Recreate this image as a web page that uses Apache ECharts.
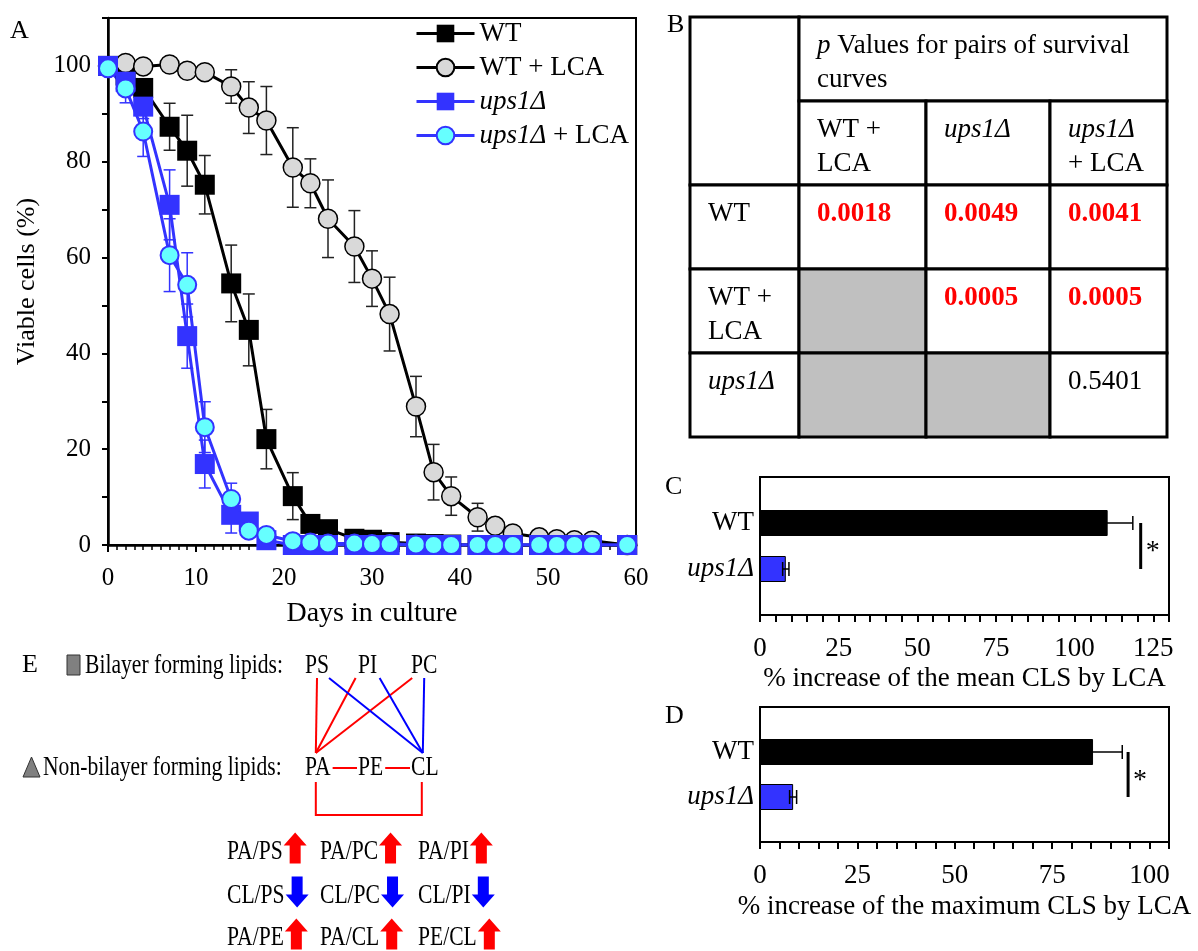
<!DOCTYPE html>
<html><head><meta charset="utf-8">
<script src="https://cdn.jsdelivr.net/npm/echarts@6/dist/echarts.min.js"></script>
<style>html,body{margin:0;padding:0;background:#fff}#c{width:1198px;height:951px}</style>
</head><body><div id="c"></div><script>
const FONT = '"Liberation Serif","Times New Roman",serif';

// ---------- Panel A data ----------
const days       = [0,2,4,7,9,11,14,16,18,21,23,25,28,30,32,35,37,39,42,44,46,49,51,53,55,59];
const wt         = [100,98,95.4,87.3,82.3,75.2,54.6,44.9,22.1,10.2,4.4,3.3,1.3,1.1,0.6,0.3,0.2,0.1,0,0,0,0,0,0,0,0];
const wtErr      = [0,1,1.5,4.9,7.4,6.1,8,7.5,6.2,4.9,1.5,1,0.5,0.5,0.3,0,0,0,0,0,0,0,0,0,0,0];
const wtLca      = [100,100.6,99.9,100.3,99.0,98.7,95.7,91.3,88.6,78.8,75.5,68.1,62.3,55.6,48.2,28.9,15.2,10.2,5.8,4.0,2.4,1.6,1.2,1.0,0.9,0];
const wtLcaErr   = [0,0.5,1,1,1,1,3.5,5.4,7.1,8.3,5.1,8.1,7.5,5.8,7.7,6.3,5.8,4.0,2.9,1.5,1,0.5,0.3,0.3,0.2,0];
const ups        = [100,96.7,91.5,71.0,43.6,16.9,6.3,4.9,1.0,0,0,0,0,0,0,0,0,0,0,0,0,0,0,0,0,0];
const upsErr     = [0,1.5,2.5,7.3,6.7,5,3.8,1.5,0.5,0,0,0,0,0,0,0,0,0,0,0,0,0,0,0,0,0];
const upsLca     = [99.5,95.3,86.3,60.5,54.3,24.6,9.6,3.0,2.1,0.8,0.5,0.3,0.3,0.2,0.2,0.1,0,0,0,0,0,0,0,0,0,0];
const upsLcaErr  = [0,3,5.2,7.6,6.7,5.3,3.3,1,0.5,0,0,0,0,0,0,0,0,0,0,0,0,0,0,0,0,0];
const seriesNames = ['WT','WT + LCA','ups1Δ','ups1Δ + LCA'];

// ---------- Panel B data ----------
const tableHeader = 'p Values for pairs of survival\ncurves';
const tableCols = ['WT +\nLCA','ups1Δ','ups1Δ\n+ LCA'];
const tableRows = ['WT','WT +\nLCA','ups1Δ'];
const pValues = [
  ['0.0018','0.0049','0.0041'],
  [null,'0.0005','0.0005'],
  [null,null,'0.5401']
];

// ---------- Panel C / D data ----------
const strains = ['WT','ups1Δ'];
const meanInc = [110.5, 8.2];
const meanErr = [8, 1];
const maxInc  = [85.5, 8.5];
const maxErr  = [7.5, 0.9];
const sigMeanX = 121;
const sigMaxX  = 94.5;

// ---------- Panel E data ----------
const bilayer = ['PS','PI','PC'];
const nonBilayer = ['PA','PE','CL'];
const links = [['PS','PA','red'],['PI','PA','red'],['PC','PA','red'],
               ['PS','CL','blue'],['PI','CL','blue'],['PC','CL','blue']];
const ratios = [['PA/PS','up'],['PA/PC','up'],['PA/PI','up'],
                ['CL/PS','down'],['CL/PC','down'],['CL/PI','down'],
                ['PA/PE','up'],['PA/CL','up'],['PE/CL','up']];

const RED = '#ff0000', BLUE = '#3333ff', LBLUE = '#0000ff';
const ital = s => s.replace(/ups1Δ/g, '{i|ups1Δ}');

// ---------- Helpers ----------
function vErr(color){
  return function(params, api){
    const x = api.value(0), lo = api.value(1), hi = api.value(2);
    if (hi - lo < 0.3) return;
    const a = api.coord([x, hi]), b = api.coord([x, lo]);
    const w = 6, st = {stroke: color, lineWidth: 1.5};
    return {type:'group', children:[
      {type:'line', shape:{x1:a[0],y1:a[1],x2:b[0],y2:b[1]}, style:st},
      {type:'line', shape:{x1:a[0]-w,y1:a[1],x2:a[0]+w,y2:a[1]}, style:st},
      {type:'line', shape:{x1:b[0]-w,y1:b[1],x2:b[0]+w,y2:b[1]}, style:st}
    ]};
  };
}
function hErr(params, api){
  const v = api.value(0), c = api.value(1), e = api.value(2);
  const a = api.coord([v - e, c]), b = api.coord([v + e, c]);
  const h = 7, st = {stroke:'#000', lineWidth:1.5};
  return {type:'group', children:[
    {type:'line', shape:{x1:a[0],y1:a[1],x2:b[0],y2:b[1]}, style:st},
    {type:'line', shape:{x1:a[0],y1:a[1]-h,x2:a[0],y2:a[1]+h}, style:st},
    {type:'line', shape:{x1:b[0],y1:b[1]-h,x2:b[0],y2:b[1]+h}, style:st}
  ]};
}
function sigBracket(params, api){
  const x = api.value(0);
  const a = api.coord([x, api.value(1)]), b = api.coord([x, api.value(2)]);
  return {type:'group', children:[
    {type:'line', shape:{x1:a[0],y1:a[1],x2:b[0],y2:b[1]}, style:{stroke:'#000', lineWidth:3}},
    {type:'text', x:a[0]+5, y:(a[1]+b[1])/2+6, style:{text:'*', fill:'#000', fontSize:28, fontFamily:FONT, verticalAlign:'middle', align:'left'}}
  ]};
}
const errData = (vals, errs) => days.map((d,i)=>[d, vals[i]-errs[i], vals[i]+errs[i]]);

// category axes for C & D: padded so the two bars sit at the inner ticks
const catAxisData = ['', ...strains.slice().reverse(), ' '];
const catIndex = name => catAxisData.indexOf(name);
function barData(vals){
  return catAxisData.map(c => {
    const i = strains.indexOf(c);
    if (i < 0) return null;
    return {value: vals[i], itemStyle:{color: c === 'WT' ? '#000' : BLUE, borderColor:'#000', borderWidth:1}};
  });
}
const hErrData = (vals, errs) => strains.map((s,i)=>[vals[i], catIndex(s), errs[i]]);

const axisBlack = {show:true, lineStyle:{color:'#000', width:2}};
const txt = (size, extra) => Object.assign({fontSize:size, fontFamily:FONT, color:'#000'}, extra||{});

// ---------- Graphic: panel letters, table B, diagram E ----------
const g = [];
[['A',10,31],['B',667,25],['C',665,487],['D',665,716],['E',22,665]].forEach(([t,x,y])=>{
  g.push({type:'text', x, y, style:{text:t, fontSize:26, fontFamily:FONT, fill:'#000', verticalAlign:'middle'}});
});

// Table B
const colX = [690, 799, 926, 1050, 1167];
const rowY = [17, 101, 185, 269, 353, 437];
const cellRect = (x0,y0,x1,y1,fill) => ({type:'rect', shape:{x:x0,y:y0,width:x1-x0,height:y1-y0}, style:{fill, stroke:'#000', lineWidth:3}, z:1});
const cellText = (x,y,text,extra) => ({type:'text', x:x+18, y:y+12, z:2, style:Object.assign({
  text: ital(text), fontSize:27, fontFamily:FONT, fill:'#000', lineHeight:34, verticalAlign:'top', align:'left',
  rich:{i:{fontStyle:'italic', fontSize:27, fontFamily:FONT, lineHeight:34},
        p:{fontStyle:'italic', fontSize:27, fontFamily:FONT, lineHeight:34}}
}, extra||{})});
g.push(cellRect(colX[0],rowY[0],colX[1],rowY[2],'#fff'));
g.push(cellRect(colX[1],rowY[0],colX[4],rowY[1],'#fff'));
g.push(cellText(colX[1],rowY[0],tableHeader.replace(/^p /,'{p|p} ')));
tableCols.forEach((c,j)=>{
  g.push(cellRect(colX[j+1],rowY[1],colX[j+2],rowY[2],'#fff'));
  g.push(cellText(colX[j+1],rowY[1],c));
});
tableRows.forEach((r,i)=>{
  g.push(cellRect(colX[0],rowY[i+2],colX[1],rowY[i+3],'#fff'));
  g.push(cellText(colX[0],rowY[i+2],r));
  pValues[i].forEach((p,j)=>{
    g.push(cellRect(colX[j+1],rowY[i+2],colX[j+2],rowY[i+3], p === null ? '#c0c0c0' : '#fff'));
    if (p !== null) {
      const sig = parseFloat(p) < 0.05;
      g.push(cellText(colX[j+1],rowY[i+2],p,{fill: sig ? RED : '#000', fontWeight: sig ? 'bold' : 'normal'}));
    }
  });
});

// Diagram E
const SX = 0.8, EFS = 27;
const ctx = document.createElement('canvas').getContext('2d');
ctx.font = EFS + 'px "Liberation Serif"';
const tw = s => ctx.measureText(s).width * SX;
const eText = (s, x, y, extra) => Object.assign({type:'text', x, y, scaleX:SX,
  style:{text:s, fontSize:EFS, fontFamily:FONT, fill:'#000', verticalAlign:'middle', align:'left'}}, extra||{});
g.push({type:'rect', shape:{x:67,y:655,width:13,height:20}, style:{fill:'#808080', stroke:'#333', lineWidth:1}});
g.push(eText('Bilayer forming lipids:', 85, 666));
g.push({type:'polygon', shape:{points:[[23,777],[31.5,757],[40,777]]}, style:{fill:'#808080', stroke:'#333', lineWidth:1}});
g.push(eText('Non-bilayer forming lipids:', 43, 768));
const nodePos = {};
const topY = 666, botY = 768, nodeLeft0 = 305, nodeStep = 53;
bilayer.forEach((n,i)=>{ const x = nodeLeft0 + nodeStep*i; nodePos[n] = {l:x, c:x+tw(n)/2, r:x+tw(n), y:topY}; g.push(eText(n, x, topY)); });
nonBilayer.forEach((n,i)=>{ const x = nodeLeft0 + nodeStep*i; nodePos[n] = {l:x, c:x+tw(n)/2, r:x+tw(n), y:botY}; g.push(eText(n, x, botY)); });
const lineCol = {red: RED, blue: LBLUE};
links.forEach(([a,b,col])=>{
  const A = nodePos[a], B = nodePos[b];
  const bx = B.c - 2;
  const d = bx - A.c;
  const ax = A.c + (Math.abs(d) < 8 ? 0 : 12*Math.sign(d));
  g.push({type:'line', shape:{x1:ax, y1:A.y+12, x2:bx, y2:B.y-15}, style:{stroke:lineCol[col], lineWidth:2}});
});
for (let i=0;i<nonBilayer.length-1;i++){
  const A = nodePos[nonBilayer[i]], B = nodePos[nonBilayer[i+1]];
  g.push({type:'line', shape:{x1:A.r+2, y1:botY, x2:B.l-1, y2:botY}, style:{stroke:RED, lineWidth:2}});
}
{
  const A = nodePos[nonBilayer[0]], B = nodePos[nonBilayer[nonBilayer.length-1]];
  g.push({type:'polyline', shape:{points:[[A.c-2,botY+14],[A.c-2,botY+47],[B.c-3,botY+47],[B.c-3,botY+14]]}, style:{stroke:RED, lineWidth:2, fill:null}});
}
const ratioColX = [227, 320, 418], ratioRowY = [852, 896, 938];
function arrow(x0, yc, dir, col){
  const w = 23, h = 31, hh = 13, s0 = 6, s1 = 17, yt = yc - h/2;
  let pts = [[x0,yt+hh],[x0+w/2,yt],[x0+w,yt+hh],[x0+s1,yt+hh],[x0+s1,yt+h],[x0+s0,yt+h],[x0+s0,yt+hh]];
  if (dir === 'down') pts = pts.map(([x,y])=>[x, 2*yc - y]);
  return {type:'polygon', shape:{points:pts}, style:{fill:col}};
}
ratios.forEach(([label,dir],k)=>{
  const x = ratioColX[k%3], y = ratioRowY[Math.floor(k/3)];
  g.push(eText(label, x, y));
  g.push(arrow(x + tw(label) + 1, y - 4, dir, dir === 'up' ? RED : LBLUE));
});

// ---------- Chart ----------
const chart = echarts.init(document.getElementById('c'), null, {renderer:'canvas'});
const lineSeries = (name, vals, symbol, size, fill, border, bw, lineColor) => ({
  type:'line', name, xAxisIndex:0, yAxisIndex:0, z:3,
  data: days.map((d,i)=>[d, vals[i]]), symbol, symbolSize:size, showSymbol:true,
  lineStyle:{color:lineColor, width:3}, itemStyle:{color:fill, borderColor:border, borderWidth:bw}
});
chart.setOption({
  animation:false,
  backgroundColor:'#fff',
  textStyle:{fontFamily:FONT},
  grid:[
    {left:108, top:18, width:528, height:527, show:true, borderColor:'#000', borderWidth:2},
    {left:760, top:477, width:409, height:138, show:true, borderColor:'#000', borderWidth:2},
    {left:760, top:707, width:409, height:135, show:true, borderColor:'#000', borderWidth:2}
  ],
  legend:{
    data: seriesNames, orient:'vertical', left:410, top:15, itemWidth:58, itemHeight:22, itemGap:7,
    lineStyle:{width:3},
    formatter: n => ital(n),
    textStyle: txt(27, {rich:{i:{fontStyle:'italic', fontSize:27, fontFamily:FONT, color:'#000'}}})
  },
  xAxis:[
    {type:'value', gridIndex:0, min:0, max:60, interval:10,
     axisLine:{show:true, lineStyle:{color:'#000', width:2.5}},
     axisTick:{show:true, length:7, lineStyle:{color:'#000', width:2}},
     minorTick:{show:true, splitNumber:10, length:5, lineStyle:{color:'#000', width:1.5}},
     splitLine:{show:false},
     axisLabel: txt(25, {margin:21}),
     name:'Days in culture', nameLocation:'middle', nameGap:55, nameTextStyle: txt(28)},
    {type:'value', gridIndex:1, min:0, max:130, interval:5,
     axisLine:axisBlack, splitLine:{show:false},
     axisTick:{show:true, length:7, lineStyle:{color:'#000', width:2}},
     axisLabel: txt(27, {margin:20, formatter: v => (v % 25 === 0 && v <= 125) ? String(v) : ''}),
     name:'% increase of the mean CLS by LCA', nameLocation:'middle', nameGap:50, nameTextStyle: txt(27)},
    {type:'value', gridIndex:2, min:0, max:105, interval:5,
     axisLine:axisBlack, splitLine:{show:false},
     axisTick:{show:true, length:7, lineStyle:{color:'#000', width:2}},
     axisLabel: txt(27, {margin:20, formatter: v => (v % 25 === 0 && v <= 100) ? String(v) : ''}),
     name:'% increase of the maximum CLS by LCA', nameLocation:'middle', nameGap:51, nameTextStyle: txt(27)}
  ],
  yAxis:[
    {type:'value', gridIndex:0, min:0, max:110, interval:10,
     axisLine:{show:true, lineStyle:{color:'#000', width:2.5}},
     axisTick:{show:true, length:6, lineStyle:{color:'#000', width:2}},
     splitLine:{show:false},
     axisLabel: txt(25, {margin:17, formatter: v => (v % 20 === 0 && v <= 100) ? String(v) : ''}),
     name:'Viable cells (%)', nameLocation:'middle', nameGap:68, nameTextStyle: txt(26)},
    {type:'category', gridIndex:1, data:catAxisData, boundaryGap:false,
     axisLine:axisBlack, axisTick:{show:false}, splitLine:{show:false},
     axisLabel: txt(27, {margin:6, formatter: v => ital(v), rich:{i:{fontStyle:'italic', fontSize:27, fontFamily:FONT, color:'#000'}}})},
    {type:'category', gridIndex:2, data:catAxisData, boundaryGap:false,
     axisLine:axisBlack, axisTick:{show:false}, splitLine:{show:false},
     axisLabel: txt(27, {margin:6, formatter: v => ital(v), rich:{i:{fontStyle:'italic', fontSize:27, fontFamily:FONT, color:'#000'}}})}
  ],
  series:[
    {type:'custom', name:'errWT', xAxisIndex:0, yAxisIndex:0, z:2, renderItem:vErr('#222'), data:errData(wt, wtErr), encode:{x:0, y:[1,2]}},
    {type:'custom', name:'errWTLCA', xAxisIndex:0, yAxisIndex:0, z:2, renderItem:vErr('#222'), data:errData(wtLca, wtLcaErr), encode:{x:0, y:[1,2]}},
    {type:'custom', name:'errUps', xAxisIndex:0, yAxisIndex:0, z:2, renderItem:vErr(BLUE), data:errData(ups, upsErr), encode:{x:0, y:[1,2]}},
    {type:'custom', name:'errUpsLCA', xAxisIndex:0, yAxisIndex:0, z:2, renderItem:vErr(BLUE), data:errData(upsLca, upsLcaErr), encode:{x:0, y:[1,2]}},
    lineSeries('WT', wt, 'rect', 20, '#000', '#000', 0, '#000'),
    lineSeries('WT + LCA', wtLca, 'circle', 19, '#d9d9d9', '#000', 1.5, '#000'),
    lineSeries('ups1Δ', ups, 'rect', 20, BLUE, BLUE, 0, BLUE),
    lineSeries('ups1Δ + LCA', upsLca, 'circle', 18, '#66ffff', BLUE, 2, BLUE),
    {type:'bar', xAxisIndex:1, yAxisIndex:1, barWidth:26, data:barData(meanInc), z:2},
    {type:'custom', xAxisIndex:1, yAxisIndex:1, z:3, renderItem:hErr, data:hErrData(meanInc, meanErr)},
    {type:'custom', xAxisIndex:1, yAxisIndex:1, z:3, renderItem:sigBracket, data:[[sigMeanX, catIndex('WT'), catIndex('ups1Δ')]]},
    {type:'bar', xAxisIndex:2, yAxisIndex:2, barWidth:26, data:barData(maxInc), z:2},
    {type:'custom', xAxisIndex:2, yAxisIndex:2, z:3, renderItem:hErr, data:hErrData(maxInc, maxErr)},
    {type:'custom', xAxisIndex:2, yAxisIndex:2, z:3, renderItem:sigBracket, data:[[sigMaxX, catIndex('WT'), catIndex('ups1Δ')]]}
  ],
  graphic:{elements:g}
});
</script></body></html>
